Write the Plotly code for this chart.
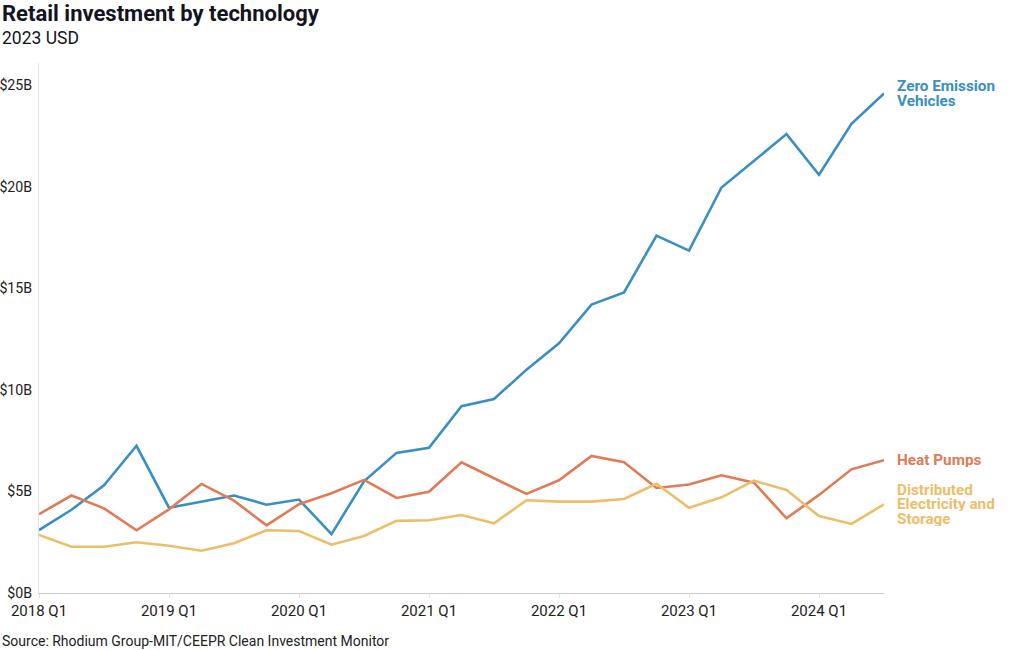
import plotly.graph_objects as go

quarters = [f"{y} Q{q}" for y in range(2018, 2025) for q in range(1, 5)][:27]
tick_labels = ["2018 Q1", "2019 Q1", "2020 Q1", "2021 Q1", "2022 Q1", "2023 Q1", "2024 Q1"]

zev = [3.1, 4.1, 5.3, 7.25, 4.2, 4.5, 4.8, 4.35, 4.6, 2.9, 5.5, 6.9, 7.15, 9.2, 9.55,
       11.0, 12.3, 14.2, 14.8, 17.6, 16.86, 19.97, 21.3, 22.6, 20.6, 23.1, 24.6]
heat_pumps = [3.88, 4.8, 4.17, 3.09, 4.12, 5.37, 4.55, 3.33, 4.37, 4.91, 5.57, 4.68, 4.99, 6.44,
              5.65, 4.88, 5.55, 6.75, 6.44, 5.17, 5.34, 5.8, 5.43, 3.68, 4.83, 6.09, 6.54]
distributed = [2.86, 2.28, 2.28, 2.5, 2.33, 2.08, 2.45, 3.09, 3.05, 2.38, 2.81, 3.55, 3.58, 3.84,
               3.43, 4.57, 4.5, 4.5, 4.63, 5.38, 4.2, 4.71, 5.53, 5.07, 3.79, 3.4, 4.37]

series = [
    ("Zero Emission Vehicles", zev, "#3a8fc2", ["Zero Emission", "Vehicles"]),
    ("Heat Pumps", heat_pumps, "#e07b58", ["Heat Pumps"]),
    ("Distributed Electricity and Storage", distributed, "#ecbe69",
     ["Distributed", "Electricity and", "Storage"]),
]

x = list(range(len(quarters)))
fig = go.Figure()
annotations = []
LINE_STEP = 14.5
for name, vals, color, label_lines in series:
    fig.add_trace(go.Scatter(x=x, y=vals, mode="lines", name=name,
                             line=dict(color=color, width=2.6), hoverinfo="skip"))
    n = len(label_lines)
    for k, line in enumerate(label_lines):
        annotations.append(dict(
            x=x[-1], y=vals[-1], xref="x", yref="y", text=f"<b>{line}</b>",
            showarrow=False, xanchor="left", yanchor="middle",
            height=14, valign="middle",
            xshift=11, yshift=(n - 1) * LINE_STEP / 2 - k * LINE_STEP,
            font=dict(family="Roboto", size=15.3, color=color)))

L, R, T, B = 39, 136, 63, 57
W, H = 1020, 650
pw, ph = W - L - R, H - T - B

def px_to_paper_x(px):
    return (px - L) / pw

def px_to_paper_y(py):
    return (H - B - py) / ph

annotations += [
    dict(x=px_to_paper_x(0), y=px_to_paper_y(14), xref="paper", yref="paper",
         text="<b>Retail investment by technology</b>", showarrow=False,
         xanchor="left", yanchor="middle",
         font=dict(family="Roboto", size=22, color="#14141e")),
    dict(x=px_to_paper_x(0), y=px_to_paper_y(38), xref="paper", yref="paper",
         text="2023 USD", showarrow=False, xanchor="left", yanchor="middle",
         font=dict(family="Roboto", size=17.5, color="#14141e")),
    dict(x=px_to_paper_x(0), y=px_to_paper_y(641), xref="paper", yref="paper",
         text="Source: Rhodium Group-MIT/CEEPR Clean Investment Monitor", showarrow=False,
         xanchor="left", yanchor="middle",
         font=dict(family="Roboto", size=14, color="#222222")),
]

fig.update_layout(
    width=W, height=H,
    margin=dict(l=L, r=R, t=T, b=B, pad=0, autoexpand=False),
    plot_bgcolor="white", paper_bgcolor="white",
    showlegend=False,
    font=dict(family="Roboto", size=15, color="#222222"),
    annotations=annotations,
)
fig.update_xaxes(
    range=[0, 26], tickmode="array", tickvals=[0, 4, 8, 12, 16, 20, 24], ticktext=tick_labels,
    showgrid=False, zeroline=False, showline=True, linecolor="#cccccc", linewidth=1,
    ticks="outside", ticklen=4, tickcolor="#e6e6e6", automargin=False,
    tickfont=dict(family="Roboto", size=15, color="#222222"),
)
fig.update_yaxes(
    range=[0, 26.1], tickmode="array", tickvals=[0, 5, 10, 15, 20, 25],
    ticktext=["$0B", "$5B", "$10B", "$15B", "$20B", "$25B"],
    showgrid=False, zeroline=False, showline=True, linecolor="#e2e2e2", linewidth=1,
    ticks="", ticklabelstandoff=3, automargin=False,
    tickfont=dict(family="Roboto", size=14.2, color="#222222"),
)

fig.write_html("out.html", config={"displayModeBar": False},
               post_script="document.body.style.margin='0';")
